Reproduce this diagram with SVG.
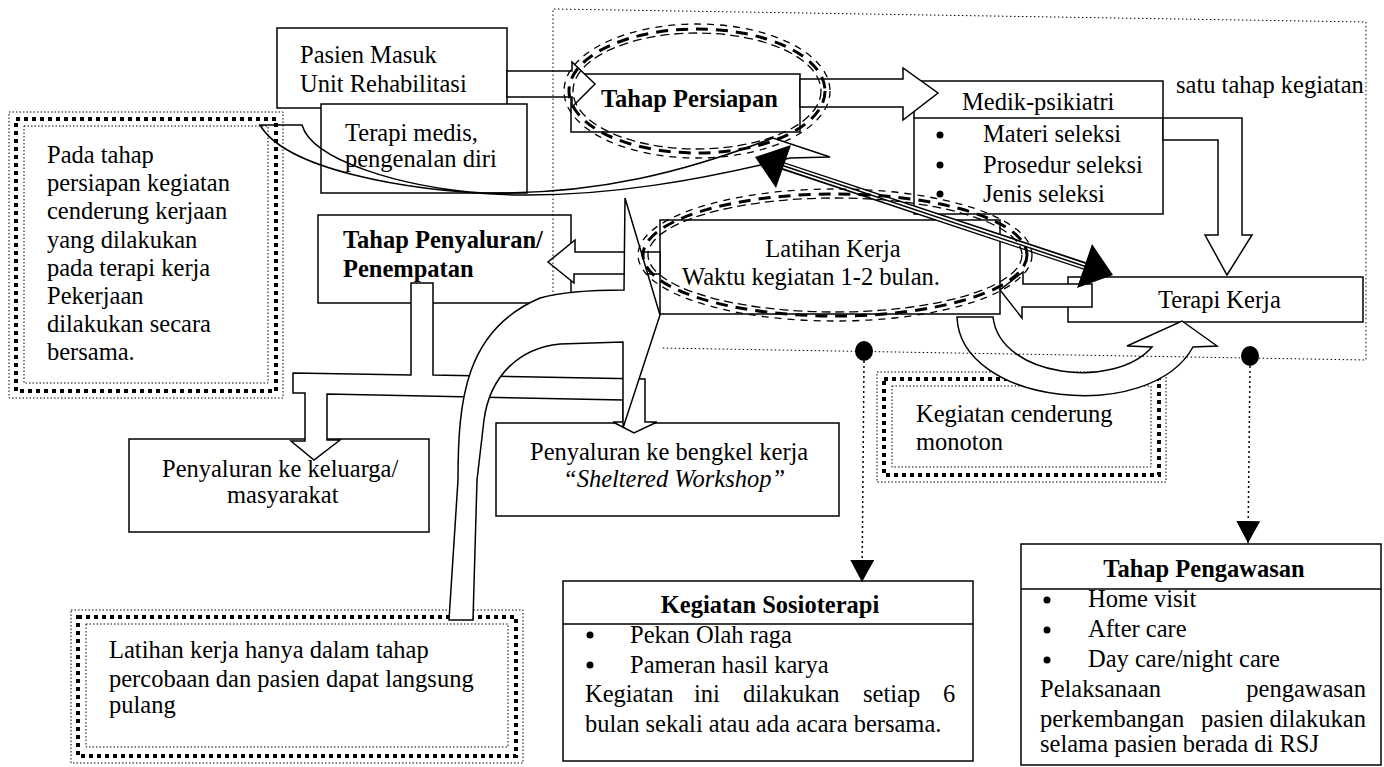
<svg xmlns="http://www.w3.org/2000/svg" width="1384" height="767" viewBox="0 0 1384 767">
<style>
.box{fill:none;stroke:#000;stroke-width:1.5}
.wbox{fill:#fff;stroke:#000;stroke-width:1.5}
.conn{fill:#fff;stroke:#000;stroke-width:1.5;stroke-linejoin:miter}
.line{fill:none;stroke:#000;stroke-width:1.5}
.thin{fill:none;stroke:#000;stroke-width:1;stroke-dasharray:1.5 2}
.thick{fill:none;stroke:#000;stroke-width:4;stroke-dasharray:4 4}
.frame{fill:none;stroke:#000;stroke-width:1;stroke-dasharray:1.5 2.5}
.dash{fill:none;stroke:#000;stroke-width:1.5;stroke-dasharray:2 3}
.e1{fill:none;stroke:#000;stroke-width:1.3;stroke-dasharray:9 5}
.e2{fill:none;stroke:#000;stroke-width:3;stroke-dasharray:12 8}
.e3{fill:none;stroke:#000;stroke-width:1.3;stroke-dasharray:7 6}
.t{font-family:"Liberation Serif","Times New Roman",serif;font-size:24.5px;fill:#000}
.b{font-weight:bold}
.i{font-style:italic}
.m{text-anchor:middle}
</style>
<defs>
<marker id="tri" viewBox="0 0 22 24" refX="22" refY="12" markerWidth="22" markerHeight="24" markerUnits="userSpaceOnUse" orient="auto">
<path d="M0,0 L22,12 L0,24 Z" fill="#000"/>
</marker>
</defs>
<rect width="1384" height="767" fill="#fff"/>

<g id="node-pasien">
<rect class="wbox" x="277" y="28" width="230" height="80"/>
<text class="t" x="300" y="63">Pasien Masuk</text>
<text class="t" x="300" y="92">Unit Rehabilitasi</text>
</g>
<g id="node-terapi-medis">
<rect class="wbox" x="321" y="104" width="206" height="89"/>
<text class="t" x="345" y="141">Terapi medis,</text>
<text class="t" x="345" y="167">pengenalan diri</text>
</g>
<g id="node-persiapan">
<rect class="box" x="571" y="74" width="229" height="58"/>
</g>
<g id="node-medik">
<rect class="box" x="914" y="81" width="249" height="133"/>
<line class="line" x1="914" y1="118" x2="1163" y2="118"/>
</g>
<g id="node-terapi-kerja">
<rect class="box" x="1068" y="277" width="295" height="45"/>
</g>
<g id="node-latihan">
<rect class="box" x="660" y="220" width="340" height="94"/>
</g>
<g id="node-penyaluran">
<rect class="box" x="318" y="215" width="253" height="88"/>
</g>
<g id="node-keluarga">
<rect class="box" x="129" y="439" width="300" height="93"/>
<text class="t" x="162" y="477">Penyaluran ke keluarga/</text>
<text class="t" x="227" y="503">masyarakat</text>
</g>
<g id="node-sheltered">
<rect class="box" x="496" y="423" width="343" height="93"/>
<text class="t" x="530" y="460">Penyaluran ke bengkel kerja</text>
<text class="t i" x="563" y="487">“Sheltered Workshop”</text>
</g>
<g id="node-sosioterapi">
<rect class="box" x="563" y="581" width="410" height="180"/>
<line class="line" x1="563" y1="624" x2="973" y2="624"/>
<text class="t b m" x="770" y="613">Kegiatan Sosioterapi</text>
<circle cx="590" cy="635" r="3.5"/>
<circle cx="590" cy="665" r="3.5"/>
<text class="t" x="630" y="643">Pekan Olah raga</text>
<text class="t" x="630" y="673">Pameran hasil karya</text>
<text class="t" y="702"><tspan x="585">Kegiatan</tspan><tspan x="694">ini</tspan><tspan x="743">dilakukan</tspan><tspan x="863">setiap</tspan><tspan x="943">6</tspan></text>
<text class="t" x="585" y="732">bulan sekali atau ada acara bersama.</text>
</g>
<g id="node-pengawasan">
<rect class="box" x="1021" y="544" width="360" height="221"/>
<line class="line" x1="1021" y1="589" x2="1381" y2="589"/>
<text class="t b m" x="1204" y="577">Tahap Pengawasan</text>
<circle cx="1047" cy="600" r="3.5"/>
<circle cx="1047" cy="630" r="3.5"/>
<circle cx="1047" cy="660" r="3.5"/>
<text class="t" x="1088" y="607">Home visit</text>
<text class="t" x="1088" y="637">After care</text>
<text class="t" x="1088" y="667">Day care/night care</text>
<text class="t" y="697"><tspan x="1040">Pelaksanaan</tspan><tspan x="1366" text-anchor="end">pengawasan</tspan></text>
<text class="t" y="727"><tspan x="1040">perkembangan</tspan><tspan x="1201">pasien</tspan><tspan x="1366" text-anchor="end">dilakukan</tspan></text>
<text class="t" x="1040" y="752">selama pasien berada di RSJ</text>
</g>

<g id="note-persiapan">
<rect class="thin" x="9" y="112" width="274" height="286"/>
<rect class="thick" x="16" y="119" width="260" height="272"/>
<rect class="thin" x="24" y="126" width="244" height="257"/>
<text class="t" x="47" y="163">Pada tahap</text>
<text class="t" x="47" y="191">persiapan kegiatan</text>
<text class="t" x="47" y="219">cenderung kerjaan</text>
<text class="t" x="47" y="248">yang dilakukan</text>
<text class="t" x="47" y="276">pada terapi kerja</text>
<text class="t" x="47" y="304">Pekerjaan</text>
<text class="t" x="47" y="332">dilakukan secara</text>
<text class="t" x="47" y="360">bersama.</text>
</g>
<g id="note-latihan">
<rect class="thin" x="71" y="610" width="452" height="153"/>
<rect class="thick" x="78" y="617" width="438" height="139"/>
<rect class="thin" x="86" y="624" width="422" height="123"/>
<text class="t" x="109" y="658">Latihan kerja hanya dalam tahap</text>
<text class="t" x="109" y="687">percobaan dan pasien dapat langsung</text>
<text class="t" x="109" y="713">pulang</text>
</g>
<g id="note-monoton">
<rect class="thin" x="877" y="372" width="289" height="110"/>
<rect class="thick" x="884" y="379" width="275" height="96"/>
<rect class="thin" x="892" y="386" width="259" height="81"/>
<text class="t" x="916" y="422">Kegiatan cenderung</text>
<text class="t" x="916" y="450">monoton</text>
</g>

<g id="connectors">
<path class="conn" d="M507,71 H572 V62 L595,84 L572,107 V97 H507 Z"/>
<path class="conn" d="M800,79 H903 V68 L938,93 L903,120 V107 H800 Z"/>
<path class="conn" d="M1163,118 H1242 V235 H1252 L1227,275 L1205,235 H1218 V140 H1163 Z"/>
<path class="conn" d="M1092,284 H1023 V272 L1000,290 L1022,318 V307 H1092 Z"/>
<path class="conn" d="M660,252 H575 V240 L548,262 L574,283 V274 H660 Z"/>
<path class="conn" d="M293,373 L411,375 L411,283 L433,283 L433,375 L645,379 L645,422 L657,422 L634,433 L613,422 L623,422 L623,400 L327,394 L327,440 L340,440 L314,460 L291,441 L305,441 L305,393 L293,393 Z"/>
<path class="conn" d="M449,620 L458,480 C458,400 465,330 540,298 C565,291 600,290 624,290 L625,198 L660,315 L623,428 L623,342 L560,344 C520,348 490,375 484,420 L477,480 L473,620 Z"/>
<path class="conn" d="M957,317 C960,405 1150,425 1193,347 L1217,346 L1182,321 L1127,346 L1152,347 C1115,390 1000,378 993,317 Z"/>
<path class="line" d="M260,125 L302,125 C312,160 400,187 483,193 C600,195 690,170 773,138 L830,157 L790,158 C700,180 610,196 520,195 C400,192 285,168 260,125 Z"/>
<line x1="783" y1="166" x2="1085" y2="266" stroke="#000" stroke-width="8"/>
<line x1="781" y1="165" x2="1087" y2="267" stroke="#fff" stroke-width="5"/>
<line x1="781" y1="165" x2="1087" y2="267" stroke="#000" stroke-width="1.5"/>
<polygon points="755,157 791,145 776,188" fill="#000"/>
<polygon points="1113,275 1092,244 1077,288" fill="#000"/>
<path class="frame" d="M553,292 V9 L1366,22 V360 L660,348"/>
<ellipse cx="864" cy="351" rx="9" ry="10" fill="#000"/>
<ellipse cx="1250" cy="356" rx="9" ry="10" fill="#000"/>
<line class="dash" x1="864" y1="361" x2="862" y2="582" marker-end="url(#tri)"/>
<line class="dash" x1="1250" y1="366" x2="1248" y2="543" marker-end="url(#tri)"/>
</g>

<g id="ellipse-persiapan">
<ellipse class="e1" cx="697" cy="91" rx="124" ry="58"/>
<ellipse class="e2" cx="697" cy="91" rx="128" ry="62"/>
<ellipse class="e3" cx="697" cy="91" rx="133" ry="67"/>
</g>
<g id="ellipse-latihan">
<ellipse class="e1" cx="835" cy="255" rx="187" ry="57"/>
<ellipse class="e2" cx="835" cy="255" rx="192" ry="61"/>
<ellipse class="e3" cx="835" cy="255" rx="197" ry="66"/>
</g>

<g id="labels">
<text class="t b" x="601" y="107">Tahap Persiapan</text>
<text class="t" x="962" y="110">Medik-psikiatri</text>
<circle cx="940" cy="135" r="3.5"/>
<circle cx="940" cy="165" r="3.5"/>
<circle cx="940" cy="194" r="3.5"/>
<text class="t" x="983" y="142">Materi seleksi</text>
<text class="t" x="983" y="173">Prosedur seleksi</text>
<text class="t" x="983" y="202">Jenis seleksi</text>
<text class="t" x="1176" y="93">satu tahap kegiatan</text>
<text class="t m" x="833" y="257">Latihan Kerja</text>
<text class="t" x="682" y="285">Waktu kegiatan 1-2 bulan.</text>
<text class="t" x="1158" y="308">Terapi Kerja</text>
<text class="t b" x="343" y="248">Tahap Penyaluran/</text>
<text class="t b" x="343" y="277">Penempatan</text>
</g>
</svg>
